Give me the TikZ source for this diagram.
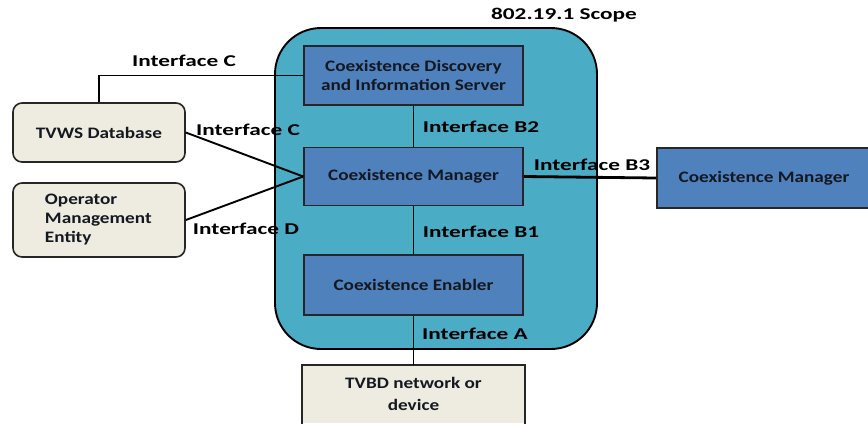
\documentclass[tikz,border=0pt]{standalone}
\usepackage{fontspec}
\newfontfamily\boxfont{Carlito}[FakeStretch=1.2]
\newfontfamily\lblfont{Carlito}[FakeStretch=1.41]
\definecolor{scopefill}{HTML}{4BACC6}
\definecolor{blockfill}{HTML}{4F81BD}
\definecolor{beige}{HTML}{EEECE1}
\definecolor{txt}{HTML}{141820}
\begin{document}
\begin{tikzpicture}[x=1bp,y=-1bp,
  block/.style={draw=black!85,line width=1.6bp,fill=blockfill,text=txt,align=center,
    font=\boxfont\bfseries\fontsize{16bp}{19bp}\selectfont,inner sep=0pt},
  ext/.style={draw=black!85,line width=1.6bp,fill=beige,text=txt,rounded corners=9bp,
    font=\boxfont\bfseries\fontsize{16bp}{19bp}\selectfont,inner sep=0pt},
  lbl/.style={text=black,font=\lblfont\bfseries\fontsize{16.5bp}{19bp}\selectfont,inner sep=0pt},
  conn/.style={draw=black,line width=1.9bp}]
\useasboundingbox (0,0) rectangle (868,423);
% scope
\draw[line width=1.9bp,fill=scopefill,rounded corners=46bp] (275,28) rectangle (597,349);
\node[lbl] (title) at (564,15) {802.19.1 Scope};
% inner blocks
\node[block,minimum width=219bp,minimum height=59bp] (dis) at (413.5,75.5)
  {Coexistence Discovery\\and Information Server};
\node[block,minimum width=219bp,minimum height=58bp] (mgr) at (413.5,176.5) {Coexistence Manager};
\node[block,minimum width=219bp,minimum height=60bp] (ena) at (413.5,285) {Coexistence Enabler};
% outside blocks
\node[ext,minimum width=172bp,minimum height=59bp] (tvws) at (99,132.5) {TVWS Database};
\node[ext,minimum width=172bp,minimum height=74bp,align=left,text width=172bp] (ome) at (99,220)
  {\hspace*{32bp}Operator\\\hspace*{32bp}Management\\\hspace*{32bp}Entity};
\node[fill=beige,text=txt,align=center,inner sep=0pt,
  font=\boxfont\bfseries\fontsize{16bp}{22bp}\selectfont,
  minimum width=223bp,minimum height=58bp] (tvbd) at (413.5,394) {TVBD network or\\device};
\draw[draw=black!85,line width=1.6bp] ([yshift=-4bp]tvbd.south west) -- (tvbd.north west)
  -- (tvbd.north east) -- ([yshift=-4bp]tvbd.south east);
\node[block,minimum width=214bp,minimum height=60bp] (cm2) at (764,178) {Coexistence Manager};
% connectors
\draw[conn] (tvws.north) |- (dis.west);
\draw[conn] (tvws.east) -- (mgr.west);
\draw[conn] (ome.east) -- (mgr.west);
\draw[conn] (dis.south) -- (mgr.north);
\draw[conn] (mgr.south) -- (ena.north);
\draw[conn] (ena.south) -- (tvbd.north);
\draw[conn,line width=2.8bp] (mgr.east) -- (cm2.west);
% labels
\node[lbl] (lc1) at (184,61) {Interface C};
\node[lbl] (lc2) at (248,130) {Interface C};
\node[lbl] (ld) at (246,229) {Interface D};
\node[lbl] (lb2) at (481,127) {Interface B2};
\node[lbl] (lb1) at (481,232) {Interface B1};
\node[lbl] (la) at (475,334) {Interface A};
\node[lbl] (lb3) at (592,165) {Interface B3};
\end{tikzpicture}
\end{document}
